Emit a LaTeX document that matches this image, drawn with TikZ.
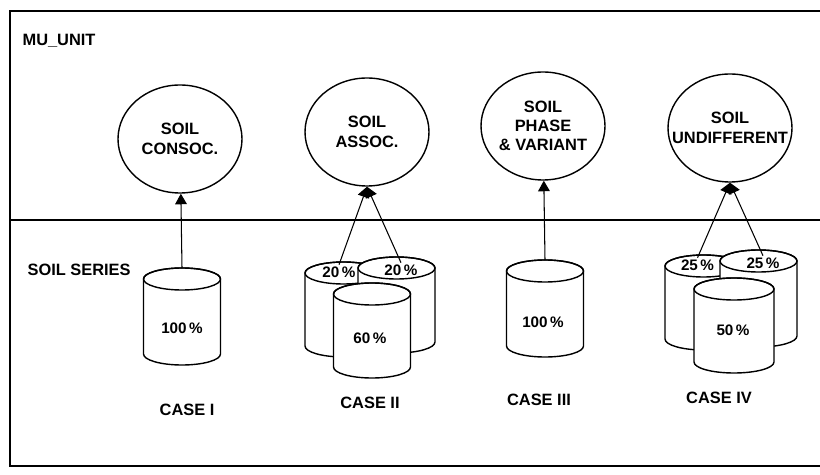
\documentclass[tikz,border=0pt]{standalone}
\usepackage{fontspec}
\setmainfont{Liberation Sans}
\usetikzlibrary{shapes.geometric,arrows.meta}

% drum: name, x, top, bottom, radius
\newcommand\soildrum[5]{%
  \filldraw[fill=white] (#2-#5,#3) -- (#2-#5,#4)
    arc[start angle=180, end angle=360, x radius=#5, y radius=11]
    -- (#2+#5,#3)
    arc[start angle=0, end angle=180, x radius=#5, y radius=11] -- cycle;
  \draw (#2,#3) ellipse[x radius=#5, y radius=11];
  \coordinate (#1) at (#2,#3+11);
}

\begin{document}
\begin{tikzpicture}[x=0.03cm, y=0.03cm, line width=1.2pt,
  every node/.style={font=\fontsize{14}{16.5}\selectfont\bfseries},
  unit/.style={draw, ellipse, minimum width=3.72cm, minimum height=3.24cm, inner sep=0pt},
  share/.style={font=\fontsize{13}{14}\selectfont\bfseries, inner sep=1pt},
  link/.style={-{Triangle[length=9pt,width=10pt]}, line width=0.9pt}]
  \useasboundingbox (0,0) rectangle (820,474);

  % frame and the two levels
  \draw[line width=1.5pt] (820,463) -- (10,463) -- (10,8) -- (820,8);
  \draw[line width=1.5pt] (10,254) -- (820,254);
  \node[anchor=west] (mu) at (18,433) {MU\_UNIT};
  \node[anchor=west] (series) at (23,204) {SOIL SERIES};

  % map units
  \node[unit, label={[align=center]center:SOIL\\CONSOC.}] (u1) at (180,335) {};
  \node[unit, label={[align=center]center:SOIL\\ASSOC.}] (u2) at (367,342) {};
  \node[unit, label={[align=center]center:SOIL\\PHASE\\\& VARIANT}] (u3) at (543,348) {};
  \node[unit, label={[align=center]center:SOIL\\UNDIFFERENT}] (u4) at (730,346) {};

  % soil series
  \soildrum{d1}{182}{195}{120}{38.5}
  \soildrum{d21}{343.5}{201}{128}{38.5}
  \soildrum{d22}{396.5}{206}{132}{38.5}
  \soildrum{d23}{372}{180}{107}{38.5}
  \soildrum{d3}{545}{203}{128}{38.5}
  \soildrum{d41}{703.5}{208}{135}{38.5}
  \soildrum{d42}{758.5}{213}{138}{38.5}
  \soildrum{d43}{734}{185}{112}{40}

  \node[share] (p1) at (182,146) {100\,\%};
  \node[share] (p21) at (339,202) {20\,\%};
  \node[share] (p22) at (401,204) {20\,\%};
  \node[share] (p23) at (370,136) {60\,\%};
  \node[share] (p3) at (543,152) {100\,\%};
  \node[share] (p41) at (697.5,209) {25\,\%};
  \node[share] (p42) at (763,211) {25\,\%};
  \node[share] (p43) at (733,144) {50\,\%};

  % cases
  \node (k1) at (187,64) {CASE I};
  \node (k2) at (370,71) {CASE II};
  \node (k3) at (539,74) {CASE III};
  \node (k4) at (719,76) {CASE IV};

  \draw[link] (d1) -- (u1);
  \draw[link] (p21.north) -- (u2.south);
  \draw[link] (p22.north) -- (u2.south);
  \draw[link] (d3) -- (u3);
  \draw[link] (p41.north) -- (u4.south);
  \draw[link] (p42.north) -- (u4.south);
\end{tikzpicture}
\end{document}
